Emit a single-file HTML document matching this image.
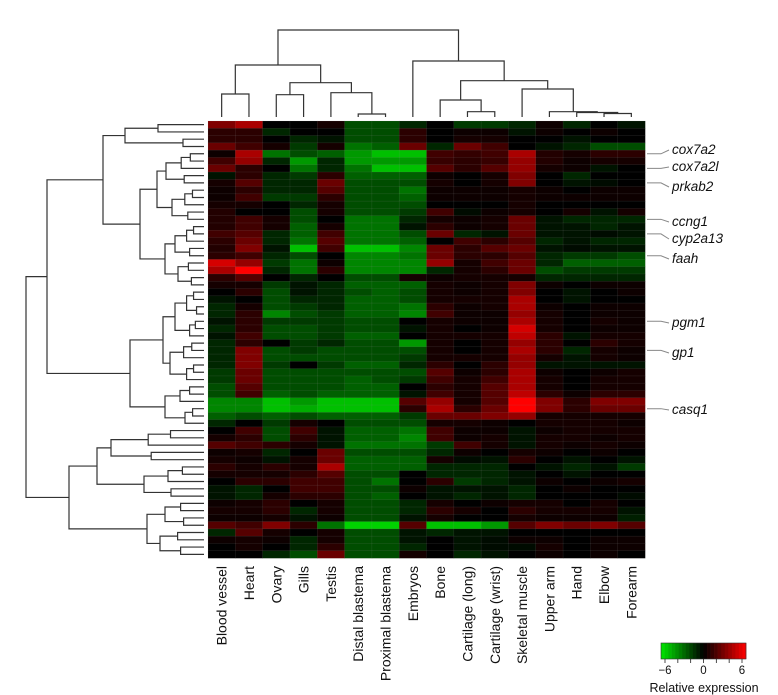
<!DOCTYPE html>
<html><head><meta charset="utf-8">
<style>
html,body{margin:0;padding:0;background:#fff;}
svg{display:block;font-family:"Liberation Sans",Arial,sans-serif;}
</style></head>
<body>
<svg id="chart" width="778" height="695" viewBox="0 0 778 695" xmlns="http://www.w3.org/2000/svg">
<g id="cells"></g>
<g id="rowDendro" stroke="#333" stroke-width="1.2" fill="none"></g>
<g id="colDendro" stroke="#333" stroke-width="1.2" fill="none"></g>
<g id="colLabels"></g>
<g id="geneLabels"></g>
<g id="legend"></g>
</svg>
<script>
const tissues = ["Blood vessel","Heart","Ovary","Gills","Testis","Distal blastema","Proximal blastema","Embryos","Bone","Cartilage (long)","Cartilage (wrist)","Skeletal muscle","Upper arm","Hand","Elbow","Forearm"];
const genes = ["cox7a2","cox7a2l","prkab2","ccng1","cyp2a13","faah","pgm1","gp1","casq1"];
const geneRows = [4,6,8,13,15,18,27,31,39];
const legendTicks = [-6,0,6];
const values = [
[3,4,0,0,0.5,-2,-2,-1,0,-1.5,-1.5,-1,0.3,-1,0,-0.5],
[1,1,-1,0,0,-2,-2,1,0,0.3,0.3,-0.5,0.3,0,0.3,0],
[1,1,0,-1,-0.5,-2,-2,1,0,0.5,0.5,0,0,-0.5,0,0],
[2.5,1.5,0.5,-1.5,0.5,-3,-2.5,2.5,-1,2.5,1.5,0,-0.5,-1,-2,-2],
[0.3,4,-3,-2,-2.5,-4,-5,-5,1.5,1.2,1.5,4,0.8,0.5,1,1],
[1.5,3.5,-1,-4,-1,-4,-4,-4,1.3,1,1.3,3.5,0.8,0.3,0.5,0.5],
[2.5,1,0,-3,-1,-3,-5,-5,2,1,2,3.5,0.5,0.3,-0.5,0],
[-0.5,1,-1,-1.5,1,-2.5,-2.5,-2.5,0.3,0,0.5,3,0,-1,0,0],
[0.5,2,-1,-1,2.5,-2,-2,-2,0.5,0,0.5,3,0,-0.5,-0.3,0],
[0.3,1,-1,-1,2,-2,-2,-3,0.3,0.3,0.3,0.5,0.3,0,0.3,0.3],
[0.3,1.5,-1.5,-1.5,1,-2,-2,-2.5,0.3,0.3,0.3,0.5,0.3,0.3,0.3,0.3],
[0.5,0.5,0,-1,0.5,-2,-2,-2,0,0,0,0.5,0,0,0,0],
[0.8,0,0,-2,0.5,-2,-2,-1.5,1.5,-0.3,0.3,0.5,0,0.5,-0.5,0.5],
[0.8,1.5,0.5,-2,0,-3,-3,-1,0.5,0.3,0.5,2.5,-0.5,-1,-1,-1],
[0.8,1.5,0.5,-2.5,0.5,-3,-3,-0.5,1,0.3,0.5,2.5,-0.5,-0.5,-1,-0.5],
[1.5,2,-1,-2.5,1.5,-3,-3,-2,2.5,-1,-0.5,2.5,-0.5,-0.5,-0.3,-0.5],
[1,2.5,-1,-3,2,-3,-3,-2.5,0,1.5,1,2,-1,-0.5,-1,-1],
[0.8,3,-0.5,-5,1.5,-5,-5,-3.5,2.5,1,2,2.5,-0.5,-0.3,-0.5,-0.5],
[1,1.5,-1,-2,0,-3.5,-3.5,-3,2.5,1,1,2,-1,-1.5,-1.5,-2],
[5,3.5,-1.5,-3,0.3,-3.5,-3.5,-3.5,3.5,0.5,1.5,2.5,-1,-2.5,-2.5,-2.5],
[4,6,-1,-3,1,-3.5,-3.5,-3.5,-1,0.5,1,2.5,-2,-1.5,-1.5,-1.5],
[1,2,0,-1,0,-2,-2,0.5,0.3,0.5,0.5,0.5,-1,-1,-1,-1],
[0.5,0.5,-1.5,-0.5,-1,-2.5,-2.5,-2.5,0.5,0.3,0.5,3,0.3,0,0.3,0.3],
[0,1,-2,-0.5,-1,-2,-2.5,-2,0.5,0.3,0.5,3,0,-0.5,0,0.3],
[-0.5,0,-2,-1,-1,-2.5,-2.5,-2,0.5,0.5,0.5,4,0,-0.5,0,0],
[-1,0.5,-2,-1.5,-1,-2.5,-2.5,-3,1,0.3,0.5,4,0.3,0,0.3,0.3],
[-1,1,-3.5,-2,-1.5,-2.5,-2.5,-3.5,1.5,0.3,0.3,3.5,0.5,0,0.3,0.3],
[-0.5,1,-1.5,-1.5,-1.5,-2,-2,0,0.5,0.3,0.3,4,0.5,0,0.5,0.3],
[-1,1,-2,-2,-1.5,-2,-2,-0.5,0.5,0,0.3,5,0.5,0,0.3,0.3],
[-0.5,1.5,-2,-2,-1.5,-2.5,-2.5,0,0.5,0.5,0.5,4.5,1,-0.5,0.5,0.5],
[-1,1,0,-1.5,-1,-2,-2,-4,0.5,0,0.5,3.5,1,0,1,0.5],
[-1,3,-2,-1.5,-2,-2,-2,-2,0.5,0,0.5,4,1,-1,0.5,0.3],
[-1,3,-2,-2,-2,-2,-2,-1.5,0.5,0.5,0.5,3.5,0.5,-0.5,0.5,0.3],
[-1,3,-1.5,0,-1.5,-2.5,-2.5,-1,1,0,1,3.5,-0.5,-0.5,-0.5,-0.5],
[-1.5,2.5,-2,-2,-2,-2,-2,-2,2,0.3,1,4,0.3,0,0.3,0.5],
[-1.5,2.5,-2,-2,-2,-2.5,-2,-1.5,1.5,0.5,1.5,4,0.5,0,0.5,0.5],
[-2,2,-2,-2,-2,-2.5,-2.5,0,1,0.5,2,4,0.5,0,0.5,0.5],
[-2,1.5,-2.5,-2,-2.5,-2.5,-2.5,-0.5,1.5,0.5,2,4.5,1,0.3,1,1],
[-3.5,-3.5,-5,-4,-5,-5,-5,2,3.5,0.5,2,6,3,1,3,3],
[-3.5,-3.5,-5,-4.5,-5,-5,-5,1,4,1,2.5,6,3,1,2.5,2.5],
[-2.5,-2,-2.5,-2,-2.5,-2.5,-2.5,-1.5,2.5,2.5,3,3.5,0.5,0.5,0.5,0.5],
[-1,0,-1.5,0.5,0,-2,-2,-2,0.5,0.5,0.3,0,0.5,0.5,0.5,0.3],
[0,1.5,-2,1.5,-0.5,-2.5,-2.5,-3,1.5,0.3,0.3,-0.5,0.3,0.5,0.5,0.5],
[0.5,1,-2,1,-0.5,-2.5,-2.5,-3.5,1.5,0.3,0.5,-0.5,0.5,0.5,0.3,0.5],
[2,1.5,1,0.5,-0.5,-3,-3,-3,-1.5,1.5,0.5,-0.5,0.5,0.3,0.5,0.3],
[0.3,0.5,-1,0,2.5,-2,-2,-2,-1,0.3,0,0.5,0.3,0,0.3,0],
[0.5,0.3,-0.5,0.5,2.5,-2.5,-2.5,-2.5,0.5,-0.3,-0.5,1,0,-0.5,0,-0.5],
[1,0.5,1,0.5,4,-2.5,-2.5,-2.5,-1,-1,-1,0,-0.5,-1,-0.5,-1.5],
[0.5,0.5,0.5,1,2,-2,-2,0,-1,-1,-1,-0.5,0,-0.5,0,0],
[0,1,1,1.5,1.5,-2,-3,0,1,-1.5,-1,-0.5,0.3,0,0.3,0.5],
[-0.5,-1,0,1.5,1.5,-2,-2,0.3,-0.5,-0.5,-0.5,-1,0,0.3,0,0],
[-0.5,-1,0.5,1,1,-2,-2.5,0,-0.5,-1,-0.5,-1,0,0,0,-0.3],
[0.3,0.5,1,0,0.5,-2,-2,-1,0.5,0,0.3,0.5,0.5,0,0.5,0],
[0.5,0.5,1,-1,0.5,-2,-2,-1,1,0.5,0,1,0.5,0.5,0.5,-0.5],
[0.3,0.3,0.5,-0.5,0.3,-2,-2,-0.5,0.5,0,0,0.5,0.3,0.3,0.3,-0.8],
[2,1.5,3,1,-3,-5.5,-5.5,2,-5,-5,-4,2,3,2.5,3,2],
[-1,2,0.5,0,0.5,-2,-2,-0.5,-1,-0.5,-0.5,0,0,0,0,0],
[0.3,0.5,0.3,-1,0.5,-2,-2,-0.5,0,-0.5,-0.3,0.3,0.3,0,0.3,0.3],
[0,0.5,0,-1,1,-2,-2,-1,0,-0.5,-0.3,-0.3,0.5,0,0.3,0.3],
[0,0,-1,-2,2.5,-2,-2,0.5,0,-1,-0.5,0,0.3,0,0.3,0]
];

const NS="http://www.w3.org/2000/svg";
const X0=208, X1=645, Y0=121, Y1=558;
const nCol=tissues.length, nRow=values.length;
const cw=(X1-X0)/nCol, rh=(Y1-Y0)/nRow;
const xCol=i=>X0+i*cw, yRow=r=>Y0+r*rh;
function color(v){const t=Math.max(-1,Math.min(1,v/6));return t>=0?`rgb(${Math.round(t*255)},0,0)`:`rgb(0,${Math.round(-t*230)},0)`;}
function mk(tag,attrs,parent){const e=document.createElementNS(NS,tag);for(const k in attrs)e.setAttribute(k,attrs[k]);parent.appendChild(e);return e;}

const cells=document.getElementById('cells');
mk('rect',{x:X0,y:Y0,width:X1-X0,height:Y1-Y0,fill:'#000'},cells);
values.forEach((row,r)=>row.forEach((v,c)=>{
  const e=mk('rect',{x:xCol(c),y:yRow(r),width:cw+0.3,height:rh+0.3,fill:color(v),stroke:'rgba(150,150,150,0.22)','stroke-width':0.5},cells);
  
  
}));

// column dendrogram
function L(i){return {leaf:i};}
function N(h,a,b){return {h,a,b};}
const colTree=N(30,N(65,N(94,L(0),L(1)),N(82.7,N(94.7,L(2),L(3)),N(92.7,L(4),N(114,L(5),L(6))))),
  N(61,L(7),N(80.7,N(100,L(8),N(111.7,L(9),L(10))),N(89,L(11),N(111.7,L(12),N(112.5,L(13),N(113.5,L(14),L(15))))))));
const cd=document.getElementById('colDendro');
const colBase=117;
function drawCol(n){
  if(n.leaf!==undefined)return {x:xCol(n.leaf)+cw/2,y:colBase};
  const a=drawCol(n.a),b=drawCol(n.b);
  mk('path',{d:`M${a.x},${a.y}V${n.h}H${b.x}V${b.y}`},cd);
  return {x:(a.x+b.x)/2,y:n.h};
}
drawCol(colTree);

// row dendrogram
const rowBase=204;
function B(lo,hi,x){
  if(lo===hi)return L(lo);
  const mid=Math.floor((lo+hi)/2);
  const cx=x+(rowBase-x)*0.4;
  return N(x,B(lo,mid,cx),B(mid+1,hi,cx+3));
}
const rowTree=N(26,
  N(47,
    N(103,N(125,N(158,L(0),L(1)),N(183,L(2),L(3))),
          N(140,N(157,B(4,8,166),B(9,13,172)),N(165,B(14,18,175),B(19,22,178)))),
    N(130,N(163,B(23,29,175),B(30,35,170)),N(165,B(36,38,180),B(39,41,185)))),
  N(69,N(97,B(42,46,111),B(47,51,144)),N(147,B(52,55,165),B(56,59,160))));
const rd=document.getElementById('rowDendro');
function drawRow(n){
  if(n.leaf!==undefined)return {x:rowBase,y:yRow(n.leaf)+rh/2};
  const a=drawRow(n.a),b=drawRow(n.b);
  mk('path',{d:`M${a.x},${a.y}H${n.h}V${b.y}H${b.x}`},rd);
  return {x:n.h,y:(a.y+b.y)/2};
}
drawRow(rowTree);

// column labels
const cl=document.getElementById('colLabels');
tissues.forEach((t,i)=>{
  const x=xCol(i)+cw/2+5, y=566;
  const e=mk('text',{x:x,y:y,transform:`rotate(-90 ${x} ${y})`,'text-anchor':'end','font-size':14,fill:'#111'},cl);
  e.textContent=t;
  
  
});

// gene labels
const gl=document.getElementById('geneLabels');
const labelY=[149,166,186,221,238,258,322,352,409];
genes.forEach((g,i)=>{
  const ry=yRow(geneRows[i])+rh/2;
  const ly=labelY[i]+1;
  const ln=mk('path',{d:`M${X1+2},${ry}H${661}L${669},${ly}`,stroke:'#888',fill:'none','stroke-width':1},gl);
  
  
  const e=mk('text',{x:672,y:labelY[i]+5,'font-size':13.5,'font-style':'italic',fill:'#111'},gl);
  e.textContent=g;
  
  
});

// legend
const lg=document.getElementById('legend');
const LX0=661,LX1=746,LY0=643,LY1=659;
const nSteps=24;
for(let k=0;k<nSteps;k++){
  const v=-6+12*(k+0.5)/nSteps;
  mk('rect',{x:LX0+k*(LX1-LX0)/nSteps,y:LY0,width:(LX1-LX0)/nSteps+0.3,height:LY1-LY0,fill:color(v)},lg);
}
mk('rect',{x:LX0,y:LY0,width:LX1-LX0,height:LY1-LY0,fill:'none',stroke:'#333','stroke-width':0.6},lg);
const lx=v=>LX0+4+(v+6)/12*(LX1-LX0-8);
for(let v=-6;v<=6;v+=2){mk('line',{x1:lx(v),x2:lx(v),y1:LY1,y2:LY1+4,stroke:'#222','stroke-width':0.8},lg);}
legendTicks.forEach(v=>{
  const e=mk('text',{x:lx(v),y:LY1+15,'text-anchor':'middle','font-size':11.5,fill:'#111'},lg);
  e.textContent=v<0?'\u2212'+Math.abs(v):String(v);
  
  
});
const lt=mk('text',{x:704,y:692,'text-anchor':'middle','font-size':12.5,fill:'#111'},lg);
lt.textContent='Relative expression';


</script>
</body></html>
